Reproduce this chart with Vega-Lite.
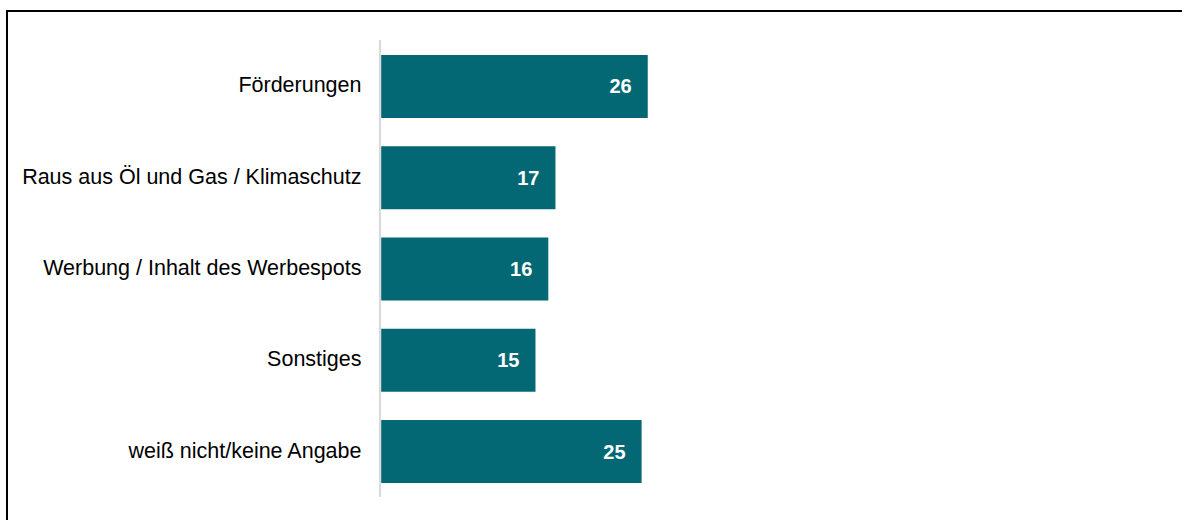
{
  "$schema": "https://vega.github.io/schema/vega-lite/v6.json",
  "width": 1180,
  "height": 516,
  "autosize": "none",
  "padding": {"left": 7, "top": 11, "right": 0, "bottom": 0},
  "background": "white",
  "config": {
    "view": {"stroke": "black", "strokeWidth": 2},
    "font": "Liberation Sans"
  },
  "datasets": {
    "balken": [
      {"kategorie": "Förderungen", "wert": 26},
      {"kategorie": "Raus aus Öl und Gas / Klimaschutz", "wert": 17},
      {"kategorie": "Werbung / Inhalt des Werbespots", "wert": 16.3},
      {"kategorie": "Sonstiges", "wert": 15.05},
      {"kategorie": "weiß nicht/keine Angabe", "wert": 25.4}
    ],
    "achse": [
      {"oben": "Förderungen", "unten": "weiß nicht/keine Angabe", "basis": -0.12}
    ]
  },
  "layer": [
    {
      "data": {"name": "balken"},
      "mark": {"type": "bar", "color": "#036873"},
      "encoding": {
        "y": {
          "field": "kategorie",
          "type": "nominal",
          "sort": null,
          "scale": {
            "domain": ["Förderungen", "Raus aus Öl und Gas / Klimaschutz", "Werbung / Inhalt des Werbespots", "Sonstiges", "weiß nicht/keine Angabe"],
            "paddingInner": 0.31,
            "paddingOuter": 0.482
          },
          "axis": {
            "title": null,
            "orient": "left",
            "offset": -354,
            "domain": false,
            "ticks": false,
            "tickSize": 0,
            "labelPadding": 0,
            "labelFontSize": 21.5,
            "labelColor": "#000000",
            "labelFont": "Liberation Sans",
            "labelLimit": 400
          }
        },
        "x": {
          "field": "wert",
          "type": "quantitative",
          "scale": {"domain": [-36.5, 78.6], "zero": false, "nice": false},
          "axis": null
        }
      }
    },
    {
      "data": {"name": "balken"},
      "mark": {"type": "text", "align": "right", "baseline": "middle", "dx": -16, "dy": 1, "color": "white", "fontWeight": "bold", "fontSize": 20, "font": "Liberation Sans"},
      "encoding": {
        "y": {"field": "kategorie", "type": "nominal"},
        "x": {"field": "wert", "type": "quantitative"},
        "text": {"field": "wert", "type": "quantitative", "format": ".0f"}
      }
    },
    {
      "data": {"name": "achse"},
      "mark": {"type": "rule", "color": "#D9D9D9", "strokeWidth": 2},
      "encoding": {
        "x": {"field": "basis", "type": "quantitative"},
        "y": {"field": "oben", "type": "nominal", "bandPosition": -0.238},
        "y2": {"field": "unten", "bandPosition": 1.222}
      }
    }
  ]
}
